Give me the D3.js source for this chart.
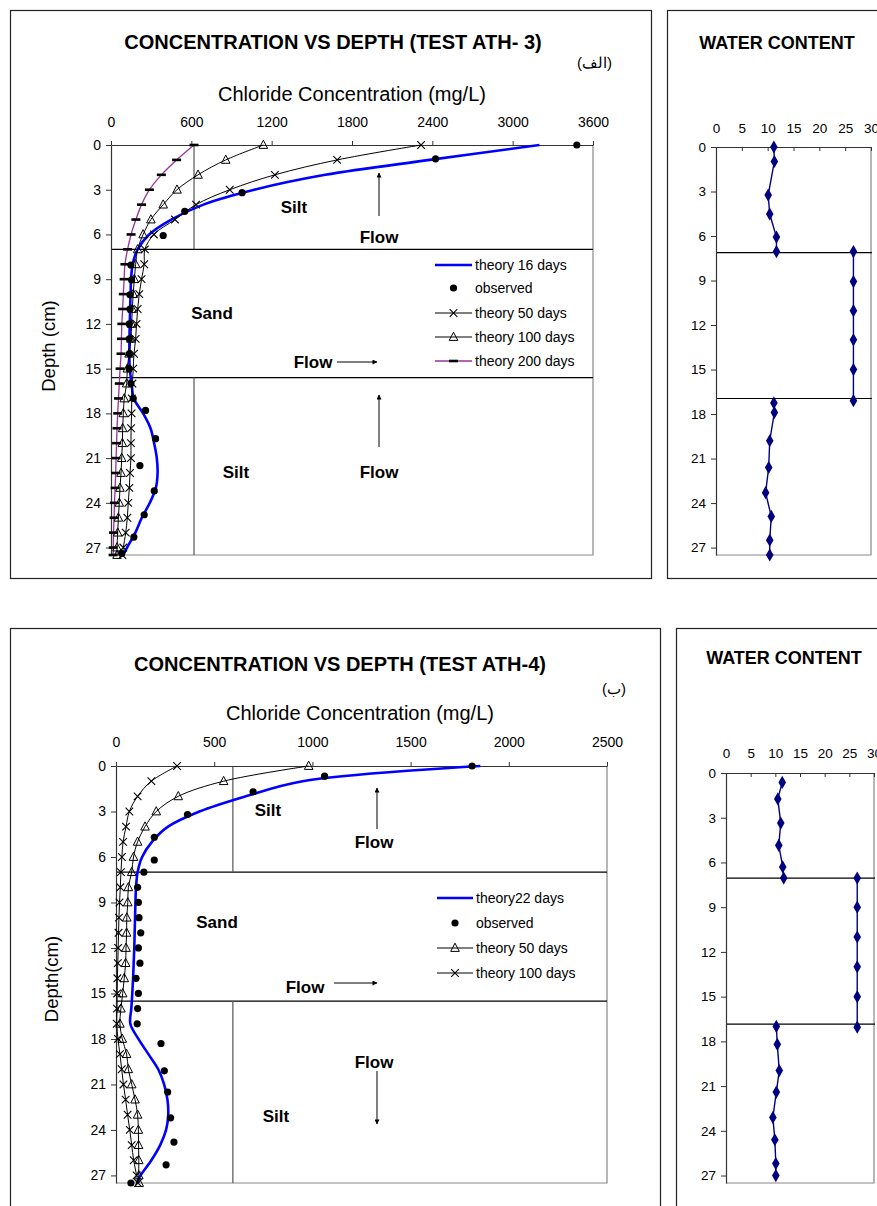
<!DOCTYPE html>
<html><head><meta charset="utf-8">
<script src="https://cdn.jsdelivr.net/npm/d3@7"></script>
<style>
body{margin:0;background:#fff}
svg{display:block}
text{font-family:Arial,"Liberation Sans",sans-serif}
</style>
</head><body>
<svg id="c" width="877" height="1206"></svg>
<script>
// ---------------- DATA ----------------
const theoryDepths = [0,1,2,3,4,5,6,7,8,9,10,11,12,13,14,15,16,17,18,19,20,21,22,23,24,25,26,27,27.5];
const depthTicks = [0,3,6,9,12,15,18,21,24,27];

// Test ATH-3 (chloride, mg/L)
const ath3ConcTicks = [0,600,1200,1800,2400,3000,3600];
const ath3Theory16  = [3200,2380,1600,1070,690,450,285,199,162,150,146,143,140,138,137,140,154,170,240,295,322,342,348,335,290,230,182,120,90];
const ath3Theory50  = [2316,1689,1224,887,635,478,320,253,248,228,211,199,191,184,172,166,160,155,154,150,149,149,142,137,129,122,110,92,85];
const ath3Theory100 = [1138,857,650,493,390,298,240,199,184,174,166,159,154,149,135,122,117,99,92,87,85,80,75,67,62,55,50,45,45];
const ath3Theory200 = [620,490,376,287,228,186,150,124,104,98,92,87,81,78,75,68,62,56,50,45,42,38,35,31,26,23,19,17,16];
const ath3ObsDepth  = [0,0.93,3.2,4.45,6.07,8.05,9.05,10.05,11,12,13,14,15,16,17,17.8,19.7,21.5,23.2,24.8,26.3,27.4];
const ath3Observed  = [3479,2424,979,551,390,149,154,142,142,137,137,137,135,149,166,258,333,216,323,248,171,80];
const ath3Legend    = ["theory 16 days","observed","theory 50 days","theory 100 days","theory 200 days"];

// Test ATH-4 (chloride, mg/L)
const ath4ConcTicks = [0,500,1000,1500,2000,2500];
const ath4Theory22  = [1855,950,660,425,265,183,133,110,102,99,97,95,93,90,87,83,78,73,114,165,215,245,262,266,255,225,180,125,105];
const ath4Theory50  = [981,548,317,205,148,110,89,80,63,60,55,54,51,49,42,34,25,20,32,54,63,80,97,110,114,115,116,116,118];
const ath4Theory100 = [311,180,110,68,51,36,30,25,22,18,15,13,11,9,7,6,5,4,10,20,29,38,49,59,70,80,90,105,112];
const ath4ObsDepth  = [0,0.67,1.7,3.2,4.7,6.2,7.0,8,9,10,11,12,13,14,15,16,17,18.3,20.1,21.5,23.2,24.8,26.3,27.5];
const ath4Observed  = [1813,1062,698,364,195,195,142,110,114,117,126,114,122,102,114,110,108,229,246,263,278,295,255,76];
const ath4Legend    = ["theory22 days","observed","theory 50 days","theory 100 days"];

// Water content (%)
const wcTicks = [0,5,10,15,20,25,30];
const wc3Depth1 = [0,0.98,3.24,4.52,6.07,7.05];
const wc3Val1   = [11.2,11.3,10.1,10.4,11.7,11.7];
const wc3Depth2 = [7.05,9.07,11.03,13,15,17.1];
const wc3Val2   = [26.6,26.6,26.6,26.6,26.6,26.6];
const wc3Depth3 = [17.25,17.9,19.8,21.6,23.3,24.9,26.5,27.5];
const wc3Val3   = [11.2,11.3,10.4,10.2,9.6,10.7,10.4,10.4];

const wc4Depth1 = [0.63,1.74,3.36,4.85,6.3,7.05];
const wc4Val1   = [11.4,10.5,11.1,10.7,11.5,11.7];
const wc4Depth2 = [7.05,9,11,13,15,17.05];
const wc4Val2   = [26.6,26.6,26.6,26.6,26.6,26.6];
const wc4Depth3 = [17.0,18.2,19.96,21.4,23.1,24.6,26.2,27.0];
const wc4Val3   = [10.2,10.4,10.8,10.2,9.5,9.9,10.1,10.1];

// ---------------- DRAW ----------------
const svg = d3.select('#c');
svg.append('rect').attr('width',877).attr('height',1206).attr('fill','#fff');
const defs = svg.append('defs');
defs.append('marker').attr('id','ah').attr('viewBox','0 0 10 10').attr('refX',9).attr('refY',5)
  .attr('markerWidth',6).attr('markerHeight',5).attr('markerUnits','userSpaceOnUse').attr('orient','auto')
  .append('path').attr('d','M0,0L10,5L0,10Z').attr('fill','#000');

const fmt = d3.format('d');

function frame(x,y,w,h){
  svg.append('rect').attr('x',x+0.5).attr('y',y+0.5).attr('width',w).attr('height',h)
    .attr('fill','none').attr('stroke','#222').attr('stroke-width',1.2);
}
function zip(a,b){ return a.map((v,i)=>({d:v,c:b[i]})); }

function drawMarkers(g, data, type, x, y){
  const s = g.append('g');
  if(type==='dot'){
    s.selectAll('circle').data(data).join('circle')
      .attr('cx',p=>x(p.c)).attr('cy',p=>y(p.d)).attr('r',3.6).attr('fill','#000');
  } else if(type==='x'){
    s.selectAll('path').data(data).join('path')
      .attr('d',p=>{const cx=x(p.c),cy=y(p.d);return `M${cx-3.8},${cy-3.8}L${cx+3.8},${cy+3.8}M${cx-3.8},${cy+3.8}L${cx+3.8},${cy-3.8}`;})
      .attr('stroke','#000').attr('stroke-width',1.1).attr('fill','none');
  } else if(type==='tri'){
    s.selectAll('path').data(data).join('path')
      .attr('d',p=>{const cx=x(p.c),cy=y(p.d);return `M${cx},${cy-4.8}L${cx+4.3},${cy+3.4}L${cx-4.3},${cy+3.4}Z`;})
      .attr('stroke','#000').attr('stroke-width',1).attr('fill','none');
  } else if(type==='dash'){
    s.selectAll('rect').data(data).join('rect')
      .attr('x',p=>x(p.c)-4.5).attr('y',p=>y(p.d)-1.3).attr('width',9).attr('height',2.6).attr('fill','#000');
  } else if(type==='diamond'){
    s.selectAll('path').data(data).join('path')
      .attr('transform',p=>`translate(${x(p.c)},${y(p.d)})`)
      .attr('d',d3.symbol(d3.symbolDiamond, 50)).attr('fill','#000080');
  }
}

function styleAxis(ax, size){
  ax.selectAll('text').attr('font-family','Arial, "Liberation Sans", sans-serif').attr('font-size',size).attr('fill','#000');
  ax.selectAll('line').attr('stroke','#333');
  ax.select('.domain').attr('stroke','#333').attr('stroke-width',1.2);
}

function annotate(list){
  list.forEach(a=>{
    if(a.t){
      svg.append('text').attr('x',a.x).attr('y',a.y).attr('text-anchor','middle').attr('dominant-baseline','central')
        .attr('font-weight','bold').attr('font-size',17).text(a.t);
    } else {
      svg.append('line').attr('x1',a.x1).attr('y1',a.y1).attr('x2',a.x2).attr('y2',a.y2)
        .attr('stroke','#000').attr('stroke-width',1).attr('marker-end','url(#ah)');
    }
  });
}

function concChart(o){
  const x = d3.scaleLinear().domain([0,o.xMax]).range([o.left,o.right]);
  const y = d3.scaleLinear().domain([0,27.5]).range([o.top,o.bottom]);
  const g = svg.append('g');
  g.append('path').attr('d',`M${o.left},${o.bottom}H${o.right}V${o.top}`).attr('stroke','#888').attr('stroke-width',1.2).attr('fill','none');
  o.layers.forEach(dp=>g.append('line').attr('x1',o.left).attr('x2',o.right).attr('y1',y(dp)).attr('y2',y(dp)).attr('stroke','#000').attr('stroke-width',1.3));
  [[0,o.layers[0]],[o.layers[1],27.5]].forEach(([a,b])=>g.append('line').attr('x1',x(o.part)).attr('x2',x(o.part)).attr('y1',y(a)).attr('y2',y(b)).attr('stroke','#555').attr('stroke-width',1.2));

  const xa = g.append('g').attr('transform',`translate(0,${o.top})`)
    .call(d3.axisTop(x).tickValues(o.xTicks).tickFormat(fmt).tickSizeInner(4).tickSizeOuter(0).tickPadding(o.xPad));
  styleAxis(xa,14);
  const ya = g.append('g').attr('transform',`translate(${o.left},0)`)
    .call(d3.axisLeft(y).tickValues(depthTicks).tickFormat(fmt).tickSizeInner(5).tickSizeOuter(0).tickPadding(5));
  styleAxis(ya,14);

  const line = d3.line().x(p=>x(p.c)).y(p=>y(p.d)).curve(d3.curveCatmullRom.alpha(0.5));
  o.series.forEach(s=>{
    if(s.type==='dot') return;
    g.append('path').datum(zip(s.depth,s.vals)).attr('d',line).attr('fill','none')
      .attr('stroke',s.color).attr('stroke-width',s.width);
  });
  o.series.forEach(s=>{
    if(s.marker) drawMarkers(g, zip(s.depth,s.vals), s.marker, x, y);
  });

  svg.append('text').attr('x',o.titleX).attr('y',o.titleY).attr('text-anchor','middle').attr('dominant-baseline','central')
    .attr('font-weight','bold').attr('font-size',20).text(o.title);
  svg.append('text').attr('x',o.tagX).attr('y',o.tagY).attr('text-anchor','end').attr('dominant-baseline','central')
    .attr('font-size',15).attr('font-family','"DejaVu Sans", Arial, sans-serif').text(o.tag);
  svg.append('text').attr('x',o.xlabX).attr('y',o.xlabY).attr('text-anchor','middle').attr('dominant-baseline','central')
    .attr('font-size',20).text('Chloride Concentration (mg/L)');
  svg.append('text').attr('transform',`translate(${o.ylabX},${o.ylabY}) rotate(-90)`).attr('text-anchor','middle')
    .attr('dominant-baseline','central').attr('font-size',18.5).text(o.ylab);

  o.series.forEach((s,i)=>{
    const ly = o.legY[i];
    const lg = svg.append('g');
    if(s.type!=='dot') lg.append('line').attr('x1',o.legX0).attr('x2',o.legX1).attr('y1',ly).attr('y2',ly)
      .attr('stroke',s.color).attr('stroke-width',s.width);
    const lx = d3.scaleLinear().domain([0,1]).range([o.legX0,o.legX1]);
    const lyS = d3.scaleLinear().domain([0,1]).range([ly,ly]);
    if(s.marker) drawMarkers(lg,[{c:0.5,d:0}],s.marker,lx,lyS);
    lg.append('text').attr('x',o.legX1+3).attr('y',ly).attr('dominant-baseline','central').attr('font-size',14).text(s.name);
  });
}

function wcChart(o){
  const x = d3.scaleLinear().domain([0,30]).range([o.left,o.right]);
  const y = d3.scaleLinear().domain([0,27.5]).range([o.top,o.bottom]);
  const g = svg.append('g');
  g.append('path').attr('d',`M${o.left},${o.bottom}H${o.right}V${o.top}`).attr('stroke','#888').attr('stroke-width',1.2).attr('fill','none');
  o.layers.forEach(dp=>g.append('line').attr('x1',o.left).attr('x2',o.right+1).attr('y1',y(dp)).attr('y2',y(dp)).attr('stroke','#000').attr('stroke-width',1.2));
  const xa = g.append('g').attr('transform',`translate(0,${o.top})`)
    .call(d3.axisTop(x).tickValues(wcTicks).tickFormat(fmt).tickSizeInner(-4).tickSizeOuter(0).tickPadding(o.xPad));
  styleAxis(xa,13.5);
  const ya = g.append('g').attr('transform',`translate(${o.left},0)`)
    .call(d3.axisLeft(y).tickValues(depthTicks).tickFormat(fmt).tickSizeInner(5).tickSizeOuter(0).tickPadding(5));
  styleAxis(ya,13.5);
  const line = d3.line().x(p=>x(p.c)).y(p=>y(p.d));
  o.series.forEach(s=>{
    const data = zip(s[0],s[1]);
    g.append('path').datum(data).attr('d',line).attr('fill','none').attr('stroke','#000080').attr('stroke-width',1.4);
    drawMarkers(g,data,'diamond',x,y);
  });
  svg.append('text').attr('x',o.titleX).attr('y',o.titleY).attr('text-anchor','middle').attr('dominant-baseline','central')
    .attr('font-weight','bold').attr('font-size',18).text('WATER CONTENT');
}

frame(10,10,641,568);
frame(667,10,260,568);
frame(10,628,650,640);
frame(676,628,260,640);

concChart({
  xMax:3600, left:111, right:593, top:145, bottom:555, xTicks:ath3ConcTicks, xPad:14,
  layers:[7,15.6], part:620,
  title:'CONCENTRATION VS DEPTH (TEST ATH- 3)', titleX:333, titleY:42,
  tag:'(الف)', tagX:612, tagY:62, xlabX:352, xlabY:94, ylab:'Depth (cm)', ylabX:48, ylabY:346,
  legX0:435, legX1:472, legY:[265,288,313,337,361],
  series:[
    {name:ath3Legend[0], depth:theoryDepths, vals:ath3Theory16, color:'#0000FF', width:2.6},
    {name:ath3Legend[1], depth:ath3ObsDepth, vals:ath3Observed, type:'dot', marker:'dot'},
    {name:ath3Legend[2], depth:theoryDepths, vals:ath3Theory50, color:'#000', width:1, marker:'x'},
    {name:ath3Legend[3], depth:theoryDepths, vals:ath3Theory100, color:'#000', width:1, marker:'tri'},
    {name:ath3Legend[4], depth:theoryDepths, vals:ath3Theory200, color:'#993399', width:1.3, marker:'dash'}
  ]
});

concChart({
  xMax:2500, left:116, right:607, top:766, bottom:1183, xTicks:ath4ConcTicks, xPad:15,
  layers:[7,15.5], part:595,
  title:'CONCENTRATION VS DEPTH (TEST ATH-4)', titleX:340, titleY:664,
  tag:'(ب)', tagX:626, tagY:688, xlabX:360, xlabY:713, ylab:'Depth(cm)', ylabX:51, ylabY:979,
  legX0:437, legX1:473, legY:[898,923,948,973],
  series:[
    {name:ath4Legend[0], depth:theoryDepths, vals:ath4Theory22, color:'#0000FF', width:2.6},
    {name:ath4Legend[1], depth:ath4ObsDepth, vals:ath4Observed, type:'dot', marker:'dot'},
    {name:ath4Legend[2], depth:theoryDepths, vals:ath4Theory50, color:'#000', width:1, marker:'tri'},
    {name:ath4Legend[3], depth:theoryDepths, vals:ath4Theory100, color:'#000', width:1, marker:'x'}
  ]
});

wcChart({left:716, right:871, top:147, bottom:555, xPad:14, layers:[7.12,16.95], titleX:777, titleY:43,
  series:[[wc3Depth1,wc3Val1],[wc3Depth2,wc3Val2],[wc3Depth3,wc3Val3]]});
wcChart({left:726, right:874, top:773, bottom:1183, xPad:15, layers:[7.05,16.85], titleX:784, titleY:658,
  series:[[wc4Depth1,wc4Val1],[wc4Depth2,wc4Val2],[wc4Depth3,wc4Val3]]});

annotate([
  {t:'Silt',x:294,y:207},{t:'Flow',x:379,y:237},{x1:379,y1:216,x2:379,y2:173},
  {t:'Sand',x:212,y:313},{t:'Flow',x:313,y:362},{x1:337,y1:362,x2:377,y2:362},
  {t:'Silt',x:236,y:472},{t:'Flow',x:379,y:472},{x1:379,y1:447,x2:379,y2:395},
  {t:'Silt',x:268,y:810},{t:'Flow',x:374,y:842},{x1:377,y1:829,x2:377,y2:788},
  {t:'Sand',x:217,y:922},{t:'Flow',x:305,y:987},{x1:334,y1:983,x2:377,y2:983},
  {t:'Flow',x:374,y:1062},{x1:377,y1:1071,x2:377,y2:1124},
  {t:'Silt',x:276,y:1116}
]);
</script>
</body></html>
